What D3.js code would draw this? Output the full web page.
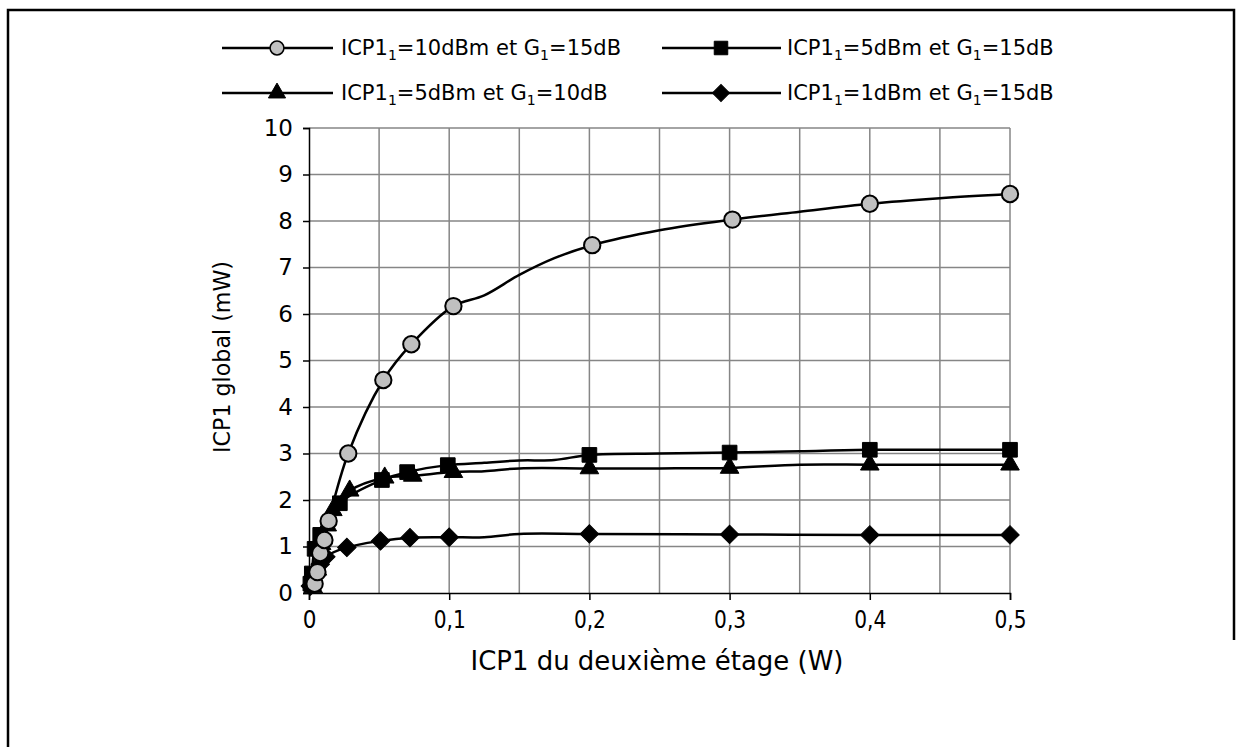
<!DOCTYPE html>
<html><head><meta charset="utf-8">
<script src="https://cdn.jsdelivr.net/npm/d3@7"></script>
<style>body{margin:0;background:#fff}svg{display:block}</style>
</head><body>
<script>
// ---- data (x in W, y in mW, third value: 1 = marker drawn) ----
const xTicks = [0, 0.1, 0.2, 0.3, 0.4, 0.5];
const xTickLabels = ["0", "0,1", "0,2", "0,3", "0,4", "0,5"];
const yTicks = [0,1,2,3,4,5,6,7,8,9,10];
const legendP1 = ["10dBm", "5dBm", "5dBm", "1dBm"];
const legendG1 = ["15dB", "15dB", "10dB", "15dB"];
const seriesCircle = [[0.004,0.2,1],[0.006,0.45,1],[0.008,0.86,1],[0.011,1.14,1],[0.014,1.55,1],[0.028,3.0,1],[0.053,4.58,1],[0.073,5.35,1],[0.103,6.17,1],[0.125,6.4,0],[0.15,6.84,0],[0.175,7.2,0],[0.202,7.48,1],[0.25,7.8,0],[0.302,8.03,1],[0.35,8.2,0],[0.4,8.37,1],[0.45,8.49,0],[0.5,8.58,1]];
const seriesSquare = [[0.001,0.2,1],[0.002,0.42,1],[0.004,0.95,1],[0.008,1.25,1],[0.022,1.93,1],[0.052,2.43,1],[0.07,2.6,1],[0.099,2.75,1],[0.125,2.8,0],[0.15,2.85,0],[0.175,2.86,0],[0.2,2.97,1],[0.25,3.0,0],[0.3,3.02,1],[0.35,3.05,0],[0.4,3.08,1],[0.45,3.08,0],[0.5,3.08,1]];
const seriesTriangle = [[0.003,0.12,1],[0.006,0.5,1],[0.009,1.05,1],[0.013,1.45,1],[0.017,1.78,1],[0.029,2.2,1],[0.054,2.48,1],[0.074,2.52,1],[0.103,2.6,1],[0.125,2.62,0],[0.15,2.68,0],[0.2,2.68,1],[0.25,2.68,0],[0.3,2.69,1],[0.35,2.76,0],[0.4,2.76,1],[0.45,2.76,0],[0.5,2.76,1]];
const seriesDiamond = [[0.001,0.15,1],[0.004,0.4,1],[0.008,0.62,1],[0.012,0.78,1],[0.027,0.98,1],[0.051,1.12,1],[0.072,1.19,1],[0.1,1.2,1],[0.125,1.2,0],[0.15,1.27,0],[0.2,1.27,1],[0.3,1.26,1],[0.4,1.25,1],[0.5,1.25,1]];

const W = 1243, H = 747;
const svg = d3.select("body").append("svg").attr("width", W).attr("height", H);
const narrow = "Liberation Sans Narrow, DejaVu Sans Condensed, Arial Narrow, DejaVu Sans, sans-serif";
const wide = "DejaVu Sans, Verdana, sans-serif";

// frame
svg.append("path").attr("d", `M8,747 V10 H1234 V640`).attr("fill","none").attr("stroke","#000").attr("stroke-width",2.5);

const x = d3.scaleLinear().domain([0, 0.5]).range([309, 1010]);
const y = d3.scaleLinear().domain([0, 10]).range([593, 128]);

// grid
const g = svg.append("g");
g.selectAll("line.vg").data(d3.range(1, 11).map(i => i * 0.05)).join("line")
  .attr("x1", d => x(d)).attr("x2", d => x(d)).attr("y1", y(0)).attr("y2", y(10))
  .attr("stroke", "#868686").attr("stroke-width", 1.5);
g.selectAll("line.hg").data(yTicks.slice(1)).join("line")
  .attr("x1", x(0)).attr("x2", x(0.5)).attr("y1", d => y(d)).attr("y2", d => y(d))
  .attr("stroke", "#868686").attr("stroke-width", 1.5);

// axes
const yAxis = d3.axisLeft(y).tickValues(yTicks).tickSize(6).tickPadding(10).tickFormat(d3.format("d"));
const ya = svg.append("g").attr("transform", `translate(${x(0)},0)`).call(yAxis);
ya.select(".domain").attr("stroke", "#000").attr("stroke-width", 1.5);
ya.selectAll(".tick line").attr("stroke", "#000").attr("stroke-width", 1.5);
ya.selectAll(".tick text").attr("font-family", wide).attr("font-size", 23).attr("fill", "#000");

const xAxis = d3.axisBottom(x).tickValues(xTicks).tickSize(7).tickPadding(8).tickFormat((d, i) => xTickLabels[i]);
const xa = svg.append("g").attr("transform", `translate(0,${y(0)})`).call(xAxis);
xa.select(".domain").attr("stroke", "#000").attr("stroke-width", 1.5);
xa.selectAll(".tick line").attr("stroke", "#000").attr("stroke-width", 1.5);
xa.selectAll(".tick text").attr("font-family", narrow).attr("font-size", 24).attr("fill", "#000").attr("dy", "0.85em")
  .each(function(d, i) { if (xTickLabels[i].length > 1) d3.select(this).attr("textLength", 32).attr("lengthAdjust", "spacingAndGlyphs"); });

// titles
svg.append("text").attr("transform", `translate(230,357) rotate(-90)`).attr("text-anchor", "middle")
  .attr("font-family", wide).attr("font-size", 23)
  .attr("textLength", 192).attr("lengthAdjust", "spacingAndGlyphs")
  .text("ICP1 global (mW)");
svg.append("text").attr("x", 657).attr("y", 670).attr("text-anchor", "middle")
  .attr("font-family", narrow).attr("font-size", 26)
  .attr("textLength", 373).attr("lengthAdjust", "spacingAndGlyphs")
  .text("ICP1 du deuxième étage (W)");

// markers
const markerDefs = [
  { data: seriesCircle, type: d3.symbolCircle, size: 210, fill: "#c0c0c0", stroke: "#000", sw: 2, rot: 0 },
  { data: seriesSquare, type: d3.symbolSquare, size: 215, fill: "#000", stroke: "#000", sw: 1, rot: 0 },
  { data: seriesTriangle, type: d3.symbolTriangle, size: 150, fill: "#000", stroke: "#000", sw: 1, rot: 0 },
  { data: seriesDiamond, type: d3.symbolSquare, size: 170, fill: "#000", stroke: "#000", sw: 1, rot: 45 }
];

const line = d3.line().x(d => x(d[0])).y(d => y(d[1])).curve(d3.curveCatmullRom.alpha(0.5));
const drawOrder = [3, 1, 2, 0];
drawOrder.forEach(i => {
  const m = markerDefs[i];
  svg.append("path").datum(m.data).attr("d", line).attr("fill", "none").attr("stroke", "#000").attr("stroke-width", 2.5);
});
drawOrder.forEach(i => {
  const m = markerDefs[i];
  svg.append("g").selectAll("path").data(m.data.filter(d => d[2] === 1)).join("path")
    .attr("d", d3.symbol().type(m.type).size(m.size))
    .attr("transform", d => `translate(${x(d[0])},${y(d[1])}) rotate(${m.rot})`)
    .attr("fill", m.fill).attr("stroke", m.stroke).attr("stroke-width", m.sw);
});

// legend
const legPos = [
  { lx: 222, mx: 277, rx: 333, tx: 341, ty: 48 },
  { lx: 662, mx: 721, rx: 781, tx: 787, ty: 48 },
  { lx: 222, mx: 277, rx: 333, tx: 341, ty: 93 },
  { lx: 662, mx: 721, rx: 781, tx: 787, ty: 93 }
];
legPos.forEach((p, i) => {
  const m = markerDefs[i];
  const lg = svg.append("g");
  lg.append("line").attr("x1", p.lx).attr("x2", p.rx).attr("y1", p.ty).attr("y2", p.ty).attr("stroke", "#000").attr("stroke-width", 2.5);
  lg.append("path").attr("d", d3.symbol().type(m.type).size(i === 0 ? 150 : m.size * 0.85)())
    .attr("transform", `translate(${p.mx},${p.ty}) rotate(${m.rot})`)
    .attr("fill", m.fill).attr("stroke", m.stroke).attr("stroke-width", i === 0 ? 1.5 : 1);
  const t = lg.append("text").attr("x", p.tx).attr("y", p.ty + 7)
    .attr("font-family", wide).attr("font-size", 21);
  t.append("tspan").text("ICP1");
  t.append("tspan").attr("font-size", 14).attr("dy", 5).text("1");
  t.append("tspan").attr("dy", -5).text("=" + legendP1[i] + " et G");
  t.append("tspan").attr("font-size", 14).attr("dy", 5).text("1");
  t.append("tspan").attr("dy", -5).text("=" + legendG1[i]);
});
</script>
</body></html>
